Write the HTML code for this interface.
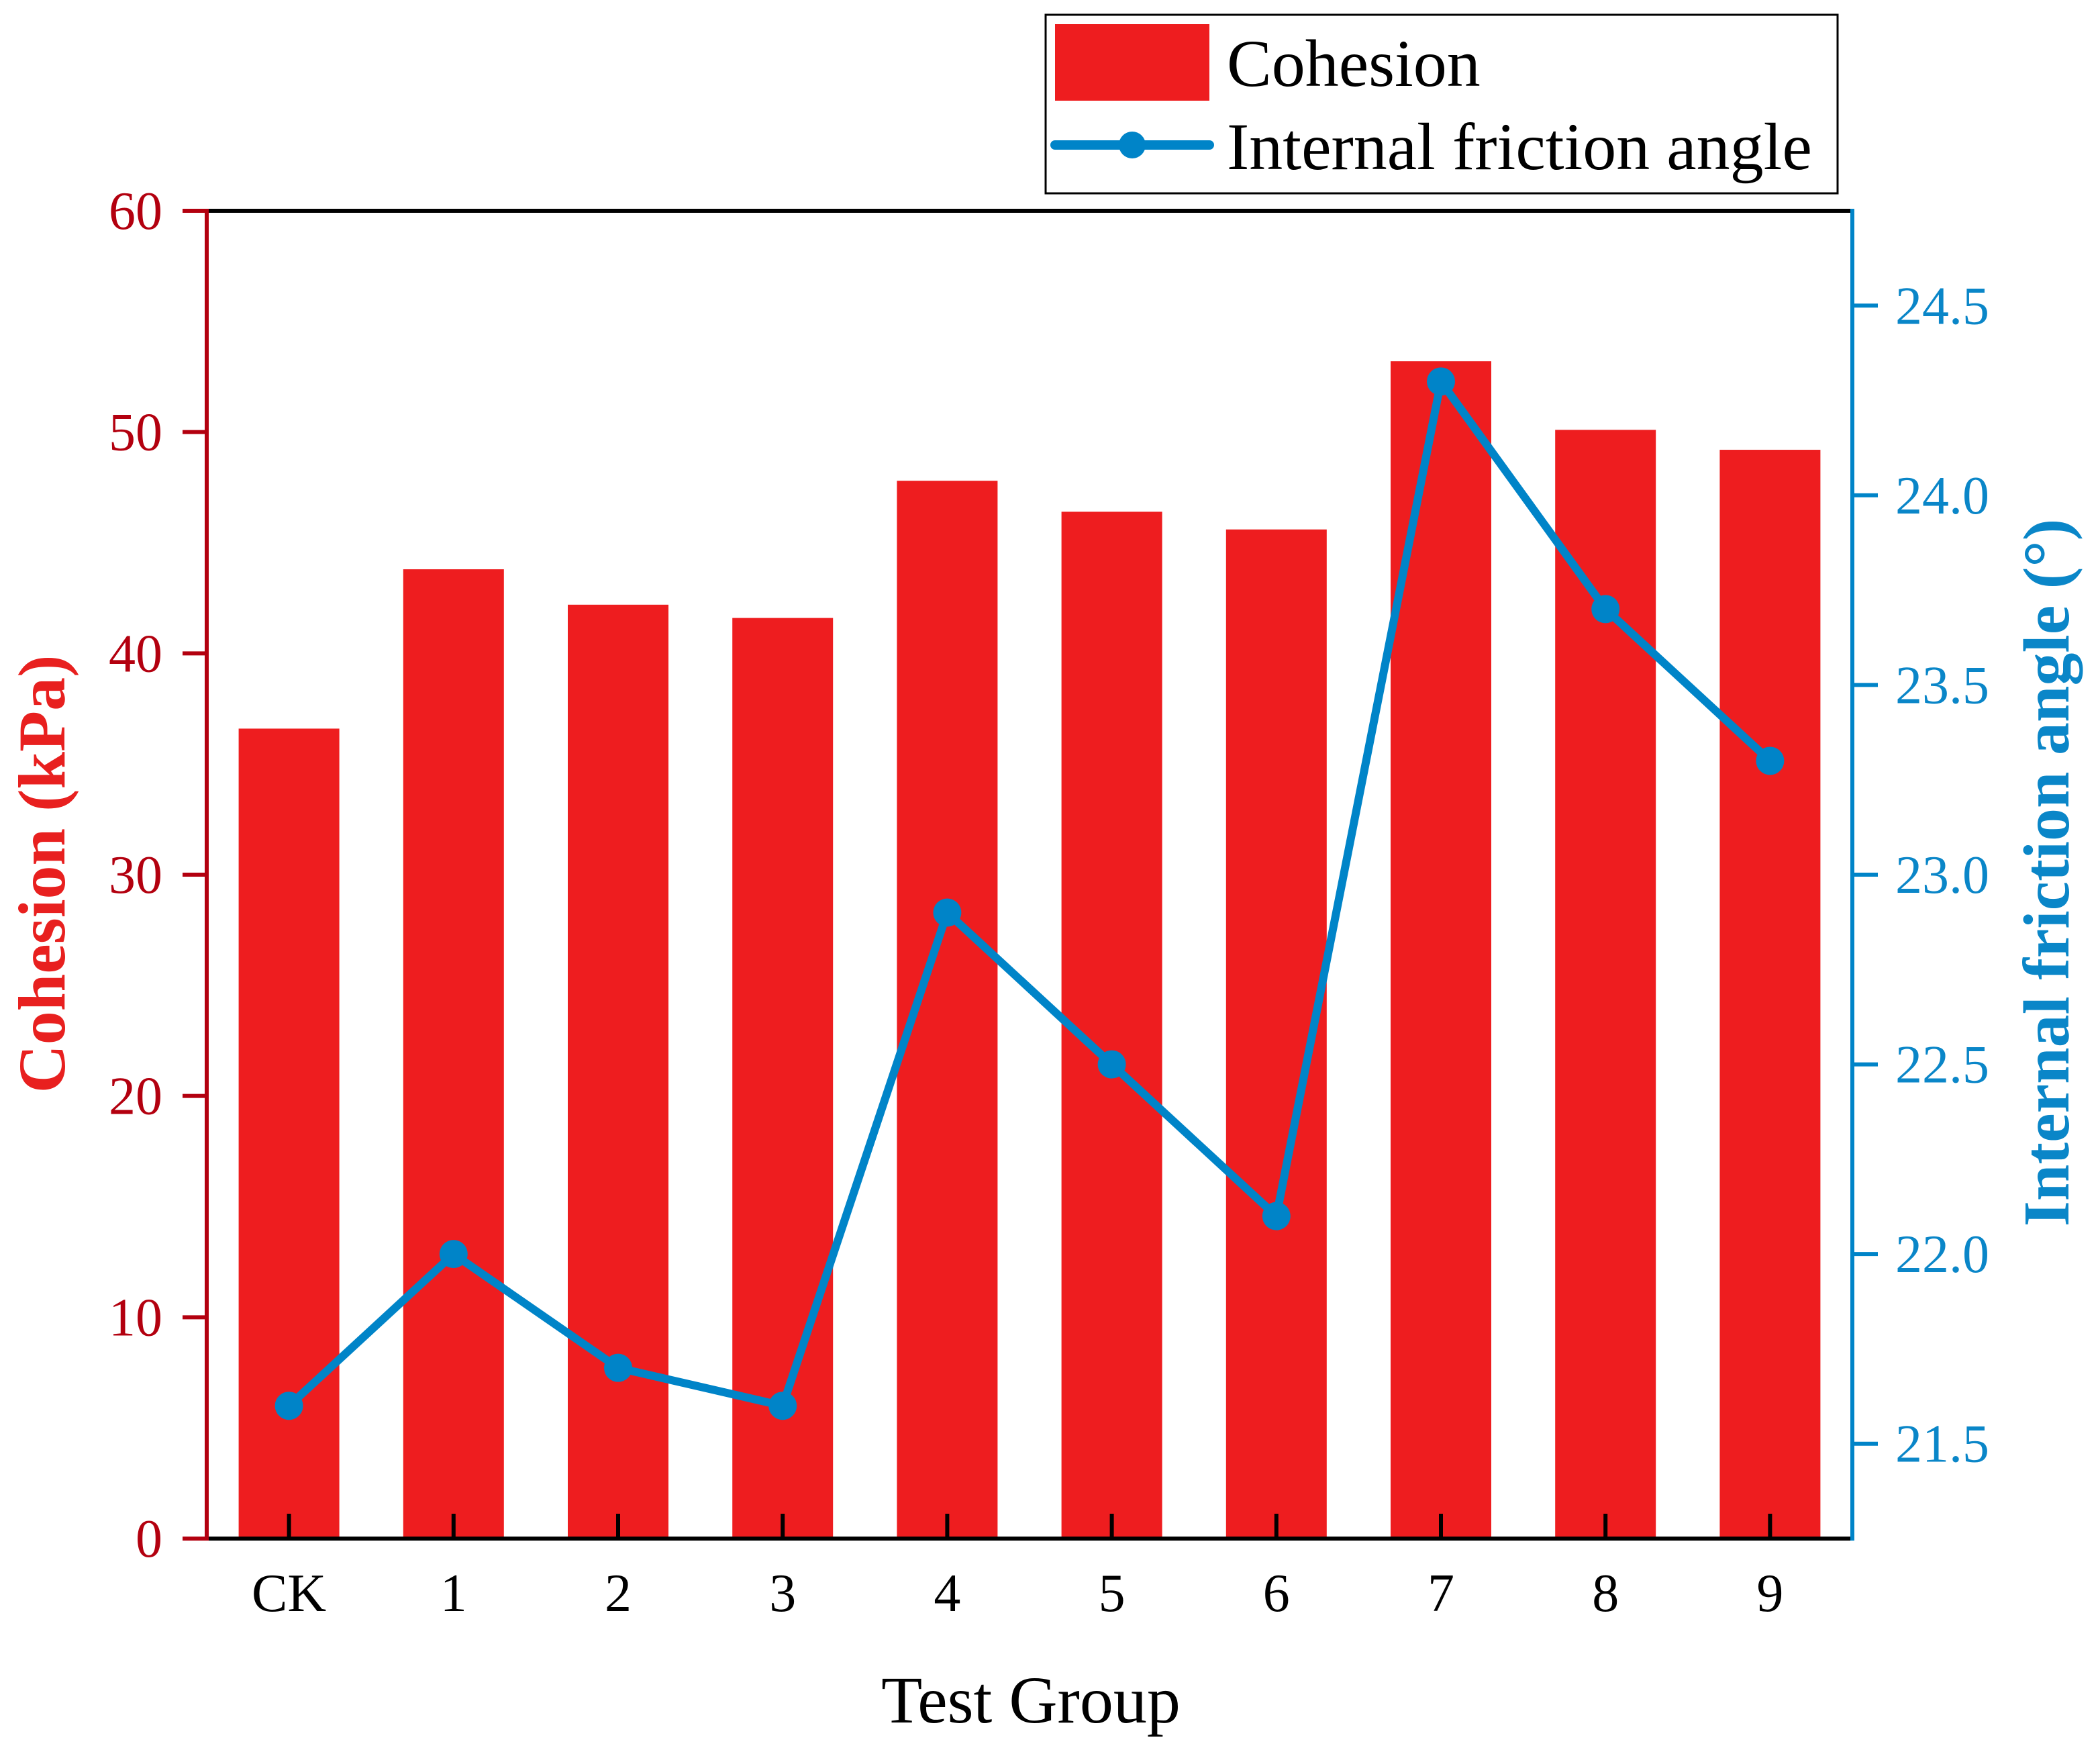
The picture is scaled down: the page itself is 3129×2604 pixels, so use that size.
<!DOCTYPE html>
<html><head><meta charset="utf-8"><style>
html,body{margin:0;padding:0;background:#fff;}
svg{display:block;font-family:"Liberation Serif",serif;}
</style></head><body>
<svg id="chart" width="3129" height="2604" viewBox="0 0 3129 2604" xmlns="http://www.w3.org/2000/svg">
<g id="bars"></g>
<g id="line"></g>
<g id="axes"></g>
<text x="1536" y="2566" font-size="100" text-anchor="middle">Test Group</text>
<text transform="translate(96,1302) rotate(-90)" font-size="100" font-weight="bold" fill="#e8201f" text-anchor="middle">Cohesion (kPa)</text>
<text transform="translate(3082,1300) rotate(-90)" font-size="98" font-weight="bold" fill="#0a86c8" text-anchor="middle">Internal friction angle (°)</text>
<g>
<rect x="1558" y="22" width="1180" height="266" fill="#fff" stroke="#000" stroke-width="3"/>
<rect x="1572" y="36" width="230" height="114" fill="#ee1d1f"/>
<text x="1828" y="128" font-size="100">Cohesion</text>
<line x1="1572" y1="216" x2="1802" y2="216" stroke="#0084c8" stroke-width="14" stroke-linecap="round"/>
<circle cx="1687" cy="216" r="20" fill="#0084c8"/>
<text x="1828" y="252" font-size="100">Internal friction angle</text>
</g>
</svg>
<script>
const categories = ["CK","1","2","3","4","5","6","7","8","9"];
const cohesion = [36.6,43.8,42.2,41.6,47.8,46.4,45.6,53.2,50.1,49.2];
const frictionAngle = [21.6,22.0,21.7,21.6,22.9,22.5,22.1,24.3,23.7,23.3];
const leftTicks = [0,10,20,30,40,50,60];
const rightTicks = ["21.5","22.0","22.5","23.0","23.5","24.0","24.5"];

const NS="http://www.w3.org/2000/svg";
const L=308,R=2760,T=314,B=2292;
const band=(R-L)/categories.length;
const xC=i=>L+band*(i+0.5);
const yL=v=>B-(v-0)/(60-0)*(B-T);
const yR=v=>B-(v-21.25)/(24.75-21.25)*(B-T);
function mk(tag,attrs,parent){const e=document.createElementNS(NS,tag);for(const k in attrs)e.setAttribute(k,attrs[k]);parent.appendChild(e);return e;}
const gb=document.getElementById('bars'),gl=document.getElementById('line'),ga=document.getElementById('axes');
const bw=150;
cohesion.forEach((v,i)=>{
  const r=mk('rect',{x:xC(i)-bw/2,y:yL(v),width:bw,height:B-yL(v),fill:'#ee1d1f'},gb);
  
  
});
let a;
a=mk('line',{x1:L,y1:T,x2:R,y2:T,stroke:'#000','stroke-width':6},ga);


a=mk('line',{x1:L,y1:B,x2:R,y2:B,stroke:'#000','stroke-width':6},ga);


a=mk('line',{x1:L,y1:T-3,x2:L,y2:B+3,stroke:'#b3000f','stroke-width':6},ga);


a=mk('line',{x1:R,y1:T-3,x2:R,y2:B+3,stroke:'#0084c8','stroke-width':6},ga);


categories.forEach((c,i)=>{
  const t=mk('line',{x1:xC(i),y1:B,x2:xC(i),y2:B-37,stroke:'#000','stroke-width':6},ga);
  
  
  const tx=mk('text',{x:xC(i),y:2400,'font-size':80,'text-anchor':'middle'},ga);
  tx.textContent=c;
  
  
});
leftTicks.forEach(v=>{
  const t=mk('line',{x1:L-36,y1:yL(v),x2:L,y2:yL(v),stroke:'#b3000f','stroke-width':6},ga);
  
  
  const tx=mk('text',{x:L-66,y:yL(v)+27,'font-size':80,'text-anchor':'end',fill:'#b3000f'},ga);
  tx.textContent=v;
  
  
});
rightTicks.forEach(s=>{
  const v=parseFloat(s);
  const t=mk('line',{x1:R,y1:yR(v),x2:R+38,y2:yR(v),stroke:'#0084c8','stroke-width':6},ga);
  
  
  const tx=mk('text',{x:R+64,y:yR(v)+27,'font-size':80,fill:'#0a86c8'},ga);
  tx.textContent=s;
  
  
});
const pts=frictionAngle.map((v,i)=>xC(i)+','+yR(v)).join(' ');
const pl=mk('polyline',{points:pts,fill:'none',stroke:'#0084c8','stroke-width':12,'stroke-linejoin':'round'},gl);


frictionAngle.forEach((v,i)=>{
  const c=mk('circle',{cx:xC(i),cy:yR(v),r:21,fill:'#0084c8'},gl);
  
  
});
</script>
</body></html>
